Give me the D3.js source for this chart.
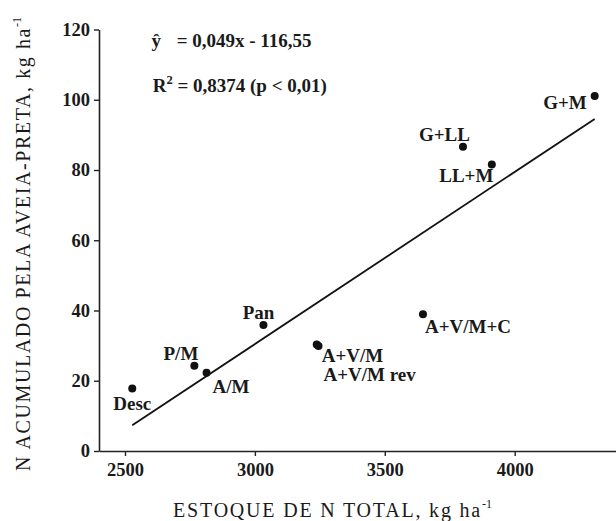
<!DOCTYPE html>
<html>
<head>
<meta charset="utf-8">
<script src="https://cdn.jsdelivr.net/npm/d3@7"></script>
<style>
  html, body { margin: 0; padding: 0; background: #fff; }
  svg { display: block; }
  text { font-family: "Liberation Serif", "Times New Roman", serif; fill: #1a1a1a; }
</style>
</head>
<body>
<svg id="chart" width="616" height="521"></svg>
<script>
// ---- data ----
const categories = ["Desc", "P/M", "A/M", "Pan", "A+V/M", "A+V/M rev", "A+V/M+C", "G+LL", "LL+M", "G+M"];
const estoqueN = [2528, 2767, 2814, 3033, 3238, 3245, 3647, 3801, 3912, 4308];
const nAcumulado = [17.8, 24.3, 22.3, 35.9, 30.3, 29.9, 38.9, 86.6, 81.6, 101.1];
const xTicks = [2500, 3000, 3500, 4000];
const yTicks = [0, 20, 40, 60, 80, 100, 120];
const slope = 0.049, intercept = -116.55;
const eqText = "= 0,049x - 116,55";
const r2Text = " = 0,8374 (p < 0,01)";
const xTitle = "ESTOQUE DE N TOTAL, kg ha";
const yTitle = "N ACUMULADO PELA AVEIA-PRETA, kg ha";

// label placement (style): anchor, dx, dy relative to the point
const labelPos = {
  "Desc": ["middle", 0, 22],
  "P/M": ["end", 4, -6],
  "A/M": ["start", 6, 20],
  "Pan": ["end", 11, -6],
  "A+V/M": ["start", 5, 17.5],
  "A+V/M rev": ["start", 5, 35],
  "A+V/M+C": ["start", 2, 19],
  "G+LL": ["end", 7, -6],
  "LL+M": ["end", 1.5, 17.5],
  "G+M": ["end", -8, 13]
};

const svg = d3.select("#chart");
const x = d3.scaleLinear().domain([2400, 4390]).range([99, 616]);
const y = d3.scaleLinear().domain([0, 120]).range([451, 29.5]);

const axisColor = "#222";
// x axis
const gx = svg.append("g").attr("transform", `translate(0,${y(0)})`)
  .call(d3.axisBottom(x).tickValues(xTicks).tickSize(5).tickSizeOuter(0).tickPadding(7).tickFormat(d3.format("d")));
// y axis
const gy = svg.append("g").attr("transform", `translate(${x(2400)},0)`)
  .call(d3.axisLeft(y).tickValues(yTicks).tickSize(5).tickSizeOuter(0).tickPadding(4).tickFormat(d3.format("d")));
[gx, gy].forEach(g => {
  g.select(".domain").attr("stroke", axisColor).attr("stroke-width", 1.6);
  g.selectAll(".tick line").attr("stroke", axisColor).attr("stroke-width", 1.4);
  g.selectAll(".tick text").attr("font-family", '"Liberation Serif", serif')
    .attr("font-weight", "bold").attr("font-size", 18.5).attr("fill", "#1a1a1a");
});

// regression line across data range
const xmin = d3.min(estoqueN), xmax = d3.max(estoqueN);
svg.append("line")
  .attr("x1", x(xmin)).attr("y1", y(slope * xmin + intercept))
  .attr("x2", x(xmax)).attr("y2", y(slope * xmax + intercept))
  .attr("stroke", "#111").attr("stroke-width", 1.8);

// points
const pts = categories.map((c, i) => ({ c, vx: estoqueN[i], vy: nAcumulado[i] }));
svg.append("g").selectAll("circle").data(pts).join("circle")
  .attr("cx", d => x(d.vx)).attr("cy", d => y(d.vy)).attr("r", 4).attr("fill", "#111");

// labels
svg.append("g").selectAll("text").data(pts).join("text")
  .attr("x", d => x(d.vx) + labelPos[d.c][1])
  .attr("y", d => y(d.vy) + labelPos[d.c][2])
  .attr("text-anchor", d => labelPos[d.c][0])
  .attr("font-weight", "bold").attr("font-size", 19)
  .text(d => d.c);

// equation
const eq = svg.append("text").attr("x", 151.5).attr("y", 46.7).attr("font-weight", "bold").attr("font-size", 19);
eq.append("tspan").text("\u0177");
eq.append("tspan").attr("x", 176.7).text(eqText);

const r2 = svg.append("text").attr("x", 152.7).attr("y", 91.7).attr("font-weight", "bold").attr("font-size", 19);
r2.append("tspan").text("R");
r2.append("tspan").attr("font-size", 12.5).attr("dy", -8).text("2");
r2.append("tspan").attr("dy", 8).text(r2Text);

// axis titles
const xt = svg.append("text").attr("x", 332.5).attr("y", 517).attr("text-anchor", "middle")
  .attr("font-size", 20).attr("letter-spacing", 1.8).attr("fill", "#222");
xt.append("tspan").text(xTitle);
xt.append("tspan").attr("font-size", 12).attr("dy", -9).attr("letter-spacing", 0).text("-1");

const yt = svg.append("text").attr("transform", "translate(30,244) rotate(-90)").attr("text-anchor", "middle")
  .attr("font-size", 20).attr("letter-spacing", 1.6).attr("fill", "#222");
yt.append("tspan").text(yTitle);
yt.append("tspan").attr("font-size", 12).attr("dy", -9).attr("letter-spacing", 0).text("-1");
</script>
</body>
</html>
